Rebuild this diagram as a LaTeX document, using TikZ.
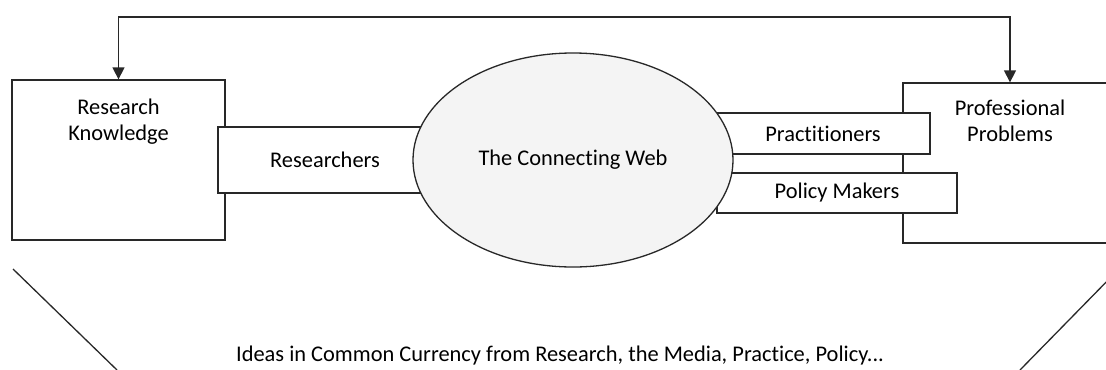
\documentclass[tikz,border=0pt]{standalone}
\usepackage{fontspec}
\setmainfont{Carlito}[Ligatures=NoCommon]
\usetikzlibrary{arrows.meta, positioning, shapes.geometric}
\definecolor{lineblack}{RGB}{40, 40, 40}
\definecolor{webgray}{RGB}{244, 244, 244}

\begin{document}
\begin{tikzpicture}[x=1bp, y=-1bp, font=\fontsize{22.5}{26}\selectfont,
    bigbox/.style={draw=lineblack, line width=1.3bp, minimum width=213bp, minimum height=160bp, inner sep=0pt},
    actor/.style={draw=lineblack, line width=1.3bp, fill=white, minimum width=214bp, inner sep=0pt},
    link/.style={lineblack, line width=1.3bp, {Triangle[width=12bp,length=12bp]}-{Triangle[width=12bp,length=12bp]}}]
    \useasboundingbox (0,0) rectangle (1106,369);
    % the two ends
    \node[bigbox] (know) at (118.5,160) {};
    \node[bigbox, minimum width=214bp] (prob) at (1010,163) {};
    \node[below=19bp of know.north, align=center, inner sep=0pt] (knowtxt) {Research\\Knowledge};
    \node[below=17bp of prob.north, align=center, inner sep=0pt] (probtxt) {Professional\\Problems};
    % the people in between
    \node[actor, minimum height=66bp] (res) at (325,160) {Researchers};
    \node[actor, minimum height=41bp] (prac) at (823,133.5) {Practitioners};
    \node[actor, minimum height=40bp, minimum width=240bp] (pol) at (837,193) {Policy Makers};
    \node[ellipse, draw=lineblack, line width=1.3bp, fill=webgray, minimum width=320bp, minimum height=214bp, inner sep=0pt] (web) at (573,160) {The Connecting Web};
    % feedback along the top
    \coordinate (rail) at (573,17);
    \draw[link] (know.north) |- (rail) -| (prob.north);
    % the funnel of common ideas
    \draw[lineblack, line width=1.3bp] (13,269) -- (117,370);
    \draw[lineblack, line width=1.3bp] (1116,272) -- (1020,370);
    \node[anchor=base] (ideas) at (560,361) {Ideas in Common Currency from Research, the Media, Practice, Policy...};
\end{tikzpicture}
\end{document}
